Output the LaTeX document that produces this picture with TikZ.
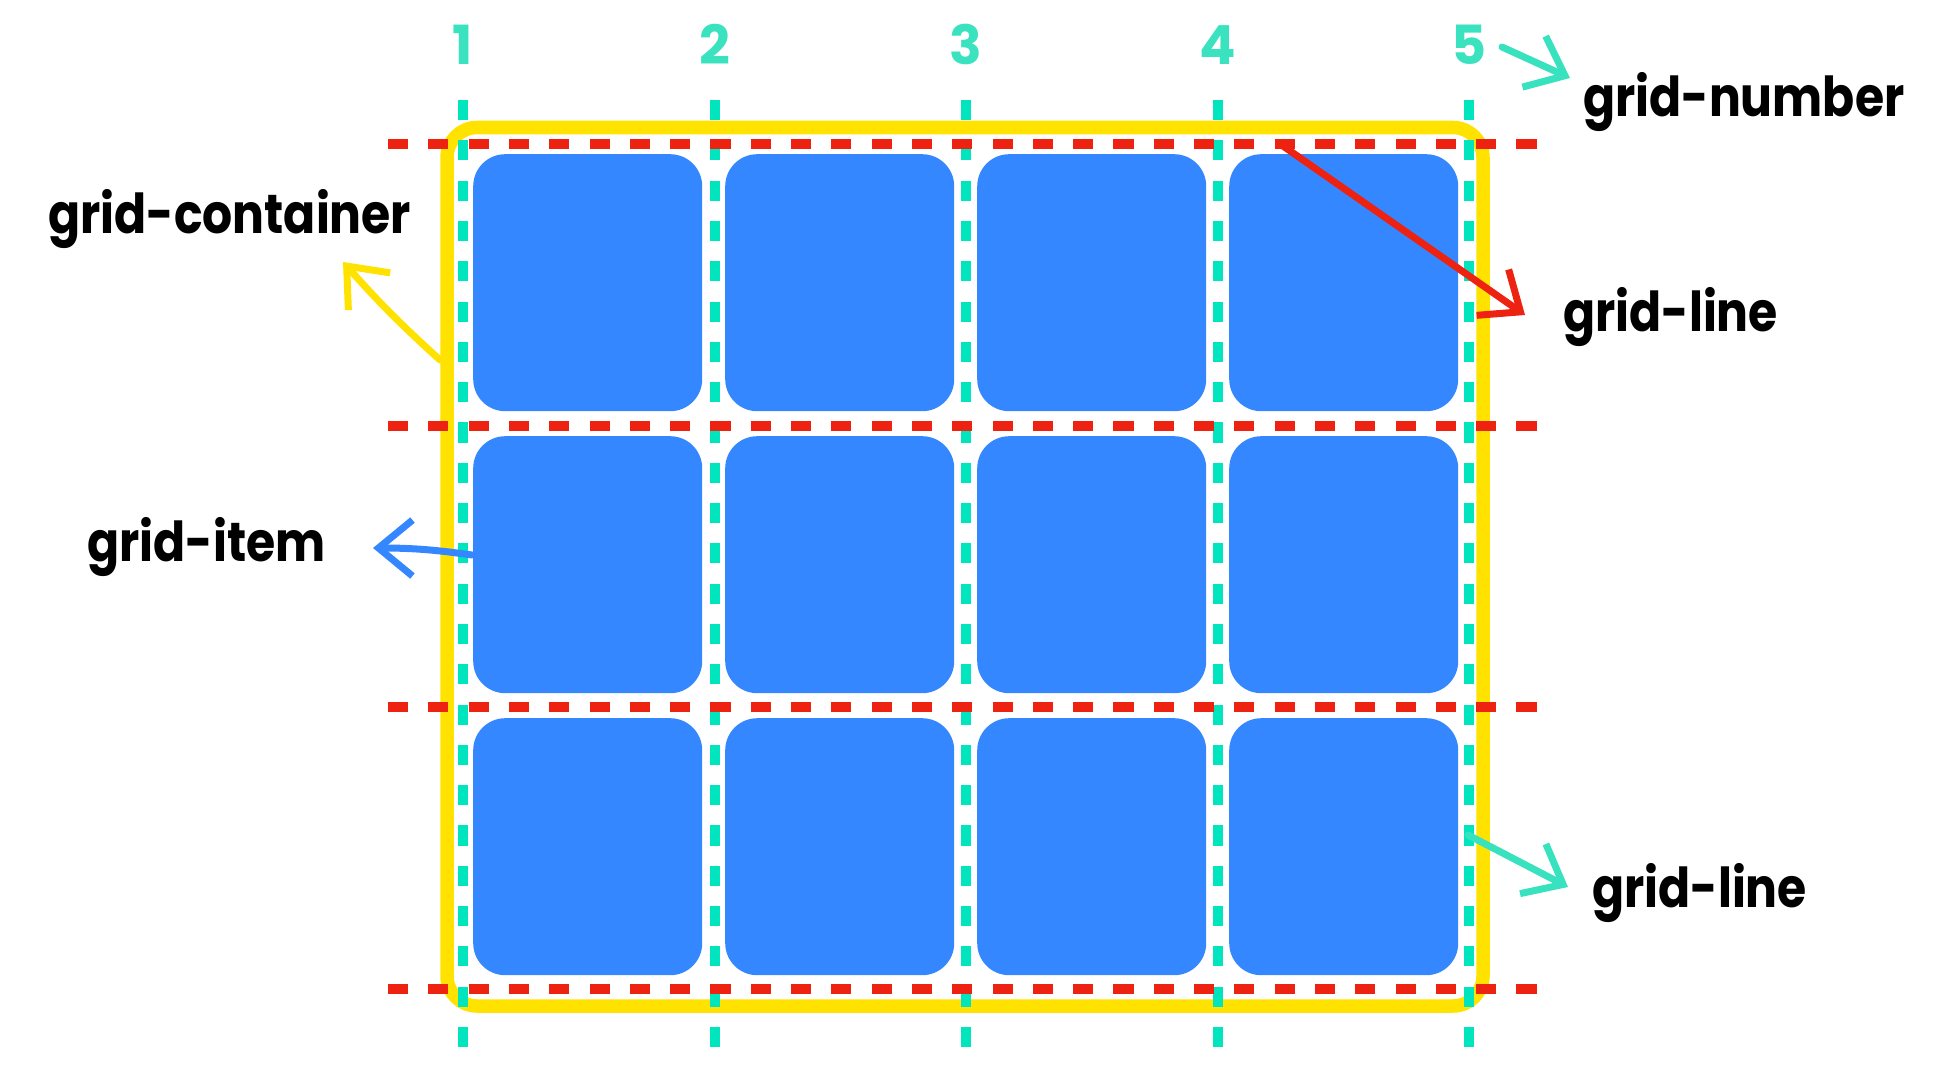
\documentclass[tikz,border=0pt]{standalone}
\usepackage{fontspec}
\setmainfont{Poppins}
\usetikzlibrary{arrows.meta}
\definecolor{itemblue}{RGB}{53,135,255}
\definecolor{boxyellow}{RGB}{255,226,0}
\definecolor{linered}{RGB}{238,34,17}
\definecolor{lineteal}{RGB}{0,229,190}
\definecolor{numteal}{RGB}{58,226,192}
\definecolor{arrowteal}{RGB}{56,226,190}
\definecolor{arrowblue}{RGB}{53,135,255}
\definecolor{arrowyellow}{RGB}{255,226,0}
\definecolor{arrowred}{RGB}{238,34,17}
\newcommand{\narrowtext}[1]{\scalebox{0.86}[1]{#1}}
\begin{document}
\begin{tikzpicture}[x=1pt,y=-1pt,
  itembox/.style={fill=itemblue, rounded corners=32pt, minimum width=229pt, minimum height=257pt, inner sep=0pt, anchor=north west},
  tealdash/.style={draw=lineteal, line width=10pt, dash pattern=on 20.15pt off 20.15pt},
  reddash/.style={draw=linered, line width=10pt, dash pattern=on 20.15pt off 20.15pt},
  numlabel/.style={text=numteal, font=\fontsize{54}{60}\selectfont\bfseries, anchor=base, inner sep=0pt},
  lbl/.style={text=black, font=\fontsize{55}{60}\selectfont\bfseries, anchor=base west, inner sep=0pt},
  sketch/.style={line width=7pt, line cap=round, line join=round, -{Straight Barb[length=34pt, width=56pt]}}
]
\useasboundingbox (0,0) rectangle (1934,1070);
% container
\draw[boxyellow, line width=13.5pt, rounded corners=30pt] (447,127.5) rectangle (1483,1006);
% items
\foreach \r in {0,1,2}{
  \foreach \c in {0,1,2,3}{
    \node[itembox] (i\r\c) at ({473+252*\c},{154+282*\r}) {};
  }
}
% vertical grid lines and numbers
\foreach \k in {1,...,5}{
  \pgfmathsetmacro{\xx}{463+251.5*(\k-1)}
  \draw[tealdash] (\xx,100) -- (\xx,1048);
  \node[numlabel] (n\k) at (\xx,65) {\k};
}
% horizontal grid lines
\foreach \k in {0,...,3}{
  \pgfmathsetmacro{\yy}{144+281.67*\k}
  \draw[reddash] (388,\yy) -- (1538,\yy);
}
% labels
\node[lbl] (lcont) at (48,233) {\narrowtext{grid-container}};
\node[lbl] (litem) at (87,561) {\narrowtext{grid-item}};
\node[lbl] (lnum) at (1583,117) {\narrowtext{grid-number}};
\node[lbl] (lline1) at (1563,331) {\narrowtext{grid-line}};
\node[lbl] (lline2) at (1592,907) {\narrowtext{grid-line}};
% arrow end points
\coordinate (ya) at (440,360);  \coordinate (yb) at (343,262);
\coordinate (ba) at (472,555);  \coordinate (bb) at (373,548);
\coordinate (ta) at (1502,47);  \coordinate (tb) at (1570,78);
\coordinate (ra) at (1283,146); \coordinate (rb) at (1525,315);
\coordinate (sa) at (1468,835); \coordinate (sb) at (1568,887);
\draw[sketch, arrowyellow] (ya) to[bend left=3] (yb);
\draw[sketch, arrowblue] (ba) to[bend right=4] (bb);
\draw[sketch, arrowteal] (ta) -- (tb);
\draw[sketch, arrowred] (ra) -- (rb);
\draw[sketch, arrowteal] (sa) -- (sb);
\end{tikzpicture}
\end{document}
